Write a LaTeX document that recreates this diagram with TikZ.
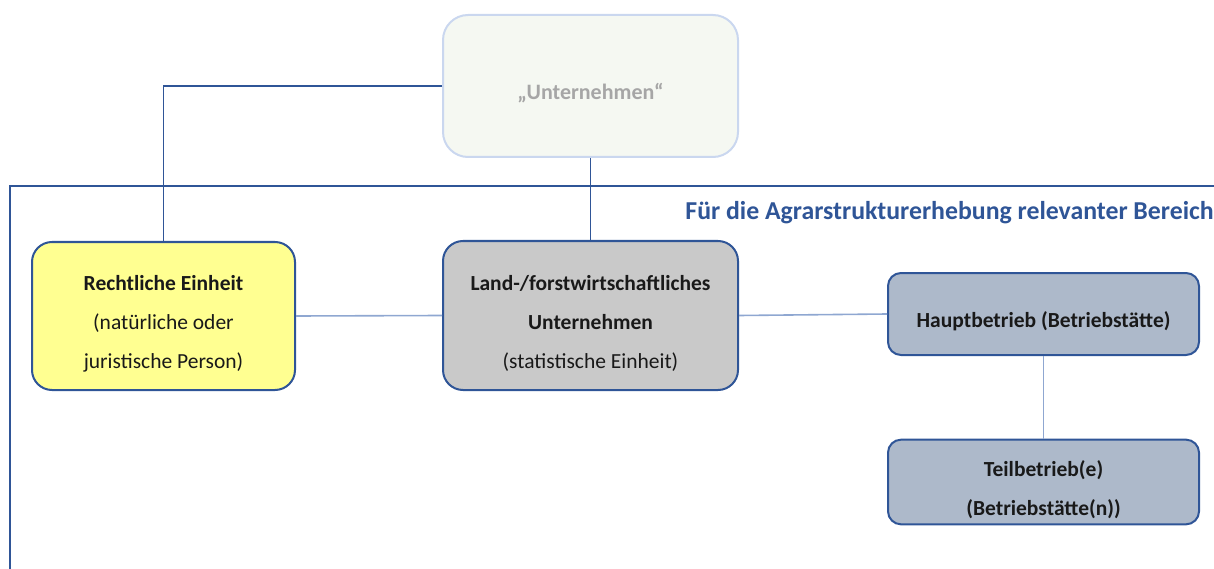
\documentclass[tikz,border=0pt]{standalone}
\usepackage{fontspec}
\setmainfont{Carlito}
\usetikzlibrary{positioning}
\definecolor{fblue}{HTML}{2F5597}
\definecolor{flight}{HTML}{8FA7D1}
\definecolor{fpale}{HTML}{CAD7EF}
\definecolor{fyellow}{HTML}{FFFF91}
\definecolor{fgray}{HTML}{C9C9C9}
\definecolor{fslate}{HTML}{ADB9CA}
\definecolor{fmint}{HTML}{F5F8F2}
\tikzset{
  unit/.style   = {draw=fblue, line width=2pt, rounded corners=20pt,
                   align=center, text=black!90,
                   font=\fontsize{21.5}{39}\selectfont},
  plant/.style  = {unit, fill=fslate, rounded corners=13pt,
                   minimum width=311pt, minimum height=82pt},
  link/.style   = {draw=fblue, line width=1.1pt},
  softlink/.style = {draw=flight, line width=1.6pt},
}
% text set a little below the middle of its box
\newcommand{\lowtext}[1]{\raisebox{-6pt}[\height][\depth]{\begin{tabular}{@{}c@{}}#1\end{tabular}}}
\begin{document}
\begin{tikzpicture}[x=1pt,y=-1pt]
\useasboundingbox (0,0) rectangle (1214,569);
% ---- frame of the relevant area ----
\draw[fblue, line width=2.8pt] (10,569) -- (10,186) -- (1216,186);
\node[fblue, font=\fontsize{25.8}{30}\selectfont\bfseries, anchor=east,
      inner sep=0pt] (title) at (1214,213)
  {Für die Agrarstrukturerhebung relevanter Bereich};
% ---- boxes ----
\node[unit, draw=fpale, fill=fmint, text=black!35, rounded corners=25pt,
      font=\fontsize{22}{39}\selectfont,
      minimum width=295pt, minimum height=142pt] (U) at (590.5,86)
  {\lowtext{\bfseries „Unternehmen“}};
\node[unit, fill=fyellow, minimum width=263pt, minimum height=148pt]
  (RE) at (163.5,316)
  {\lowtext{\textbf{Rechtliche Einheit}\\(natürliche oder\\juristische Person)}};
\node[unit, fill=fgray, minimum width=295pt, minimum height=149pt]
  (LF) at (590.5,315.5)
  {\lowtext{\textbf{Land-/forstwirtschaftliches}\\\textbf{Unternehmen}\\(statistische Einheit)}};
\node[plant] (HB) at (1043.5,314) {\lowtext{\bfseries Hauptbetrieb (Betriebstätte)}};
\node[plant] (TB) at (1043.5,482)
  {\lowtext{\textbf{Teilbetrieb(e)}\\\textbf{(Betriebstätte(n))}}};
% ---- connectors ----
\draw[link] (U.west) -| (RE.north);
\draw[link] (U.south) -- (LF.north);
\draw[softlink] (RE.east) -- (LF.west);
\draw[softlink] (LF.east) -- (HB.west);
\draw[softlink] (HB.south) -- (TB.north);
\end{tikzpicture}
\end{document}
